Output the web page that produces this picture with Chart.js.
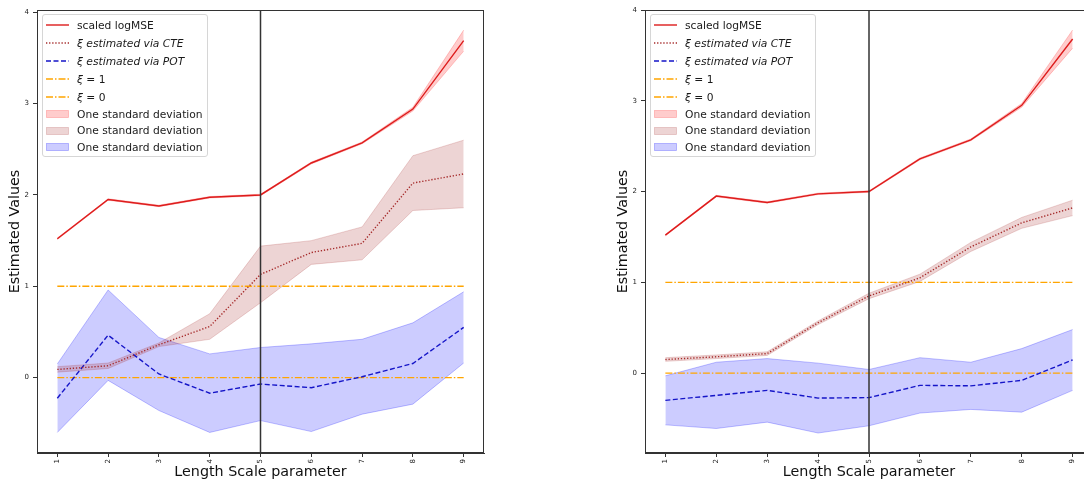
<!DOCTYPE html>
<html><head><meta charset="utf-8">
<script src="https://cdn.jsdelivr.net/npm/chart.js@4"></script>
<style>
html,body{margin:0;padding:0;background:#fff;}
body{width:1084px;height:481px;position:relative;overflow:hidden;font-family:'DejaVu Sans',sans-serif;}
.panel{position:absolute;top:0;height:481px;}
.legend{position:absolute;box-sizing:border-box;width:166px;height:143px;border:1px solid #d6d6d6;border-radius:3px;background:rgba(255,255,255,0.8);padding-top:1px;font-size:10.7px;color:#1a1a1a;}
.row{display:flex;align-items:center;height:18px;white-space:nowrap;}
.row.p{height:16.5px;}
.row svg{margin-left:3px;margin-right:8px;flex:none;}
</style></head><body>
<div class="panel" id="pL" style="left:0;width:500px"><canvas id="cL" width="500" height="481"></canvas></div>
<div class="panel" id="pR" style="left:608px;width:501px"><canvas id="cR" width="501" height="481"></canvas></div>
<script>
// ---------- data ----------
const lengthScale = [1, 2, 3, 4, 5, 6, 7, 8, 9];
const xTicks = [1, 2, 3, 4, 5, 6, 7, 8, 9];
const yTicks = [0, 1, 2, 3, 4];
const markerX = 5;
const xiLevels = [1, 0];

// left panel
const leftLogMSE     = [1.52, 1.95, 1.88, 1.975, 2.00, 2.35, 2.57, 2.94, 3.69];
const leftLogMSEStd  = [0.008, 0.008, 0.008, 0.008, 0.008, 0.01, 0.01, 0.02, 0.115];
const leftCTE        = [0.09, 0.13, 0.36, 0.56, 1.13, 1.37, 1.47, 2.13, 2.23];
const leftCTEStd     = [0.03, 0.03, 0.02, 0.14, 0.31, 0.13, 0.18, 0.30, 0.37];
const leftPOT        = [-0.225, 0.465, 0.04, -0.17, -0.07, -0.11, 0.01, 0.155, 0.55];
const leftPOTStd     = [0.375, 0.495, 0.40, 0.43, 0.40, 0.48, 0.41, 0.445, 0.39];
const leftYLim       = [-0.825, 4.025];

// right panel
const rightLogMSE    = [1.52, 1.95, 1.88, 1.975, 2.00, 2.36, 2.57, 2.95, 3.68];
const rightLogMSEStd = [0.008, 0.008, 0.008, 0.008, 0.008, 0.01, 0.01, 0.02, 0.10];
const rightCTE       = [0.15, 0.18, 0.215, 0.555, 0.85, 1.05, 1.39, 1.655, 1.82];
const rightCTEStd    = [0.02, 0.02, 0.02, 0.02, 0.03, 0.04, 0.05, 0.06, 0.085];
const rightPOT       = [-0.30, -0.245, -0.19, -0.275, -0.27, -0.135, -0.14, -0.08, 0.145];
const rightPOTStd    = [0.27, 0.365, 0.35, 0.385, 0.31, 0.305, 0.26, 0.35, 0.335];
const rightYLim      = [-0.88, 4.0];

const xLim = [0.6, 9.4];

// ---------- styles ----------
const FONT = "'DejaVu Sans', sans-serif";
const C = {
  red: '#dd1c1c', redFill: 'rgba(255,0,0,0.2)', redEdge: 'rgba(255,0,0,0.25)',
  brown: '#a52a2a', brownFill: 'rgba(165,42,42,0.2)', brownEdge: 'rgba(165,42,42,0.25)',
  blue: '#1515c8', blueFill: 'rgba(0,0,255,0.2)', blueEdge: 'rgba(0,0,255,0.3)',
  orange: '#ffa500', vline: '#333333', axis: '#333333', text: '#222222'
};
const DASH = { dotted: [1.3, 1.8], dashed: [5, 2.5], dashdot: [7, 2, 1.5, 2] };
const LW = 1.4;

function pts(xs, ys) { return xs.map((x, i) => ({ x: x, y: ys[i] })); }
function band(ys, sd, sign) { return ys.map((v, i) => v + sign * sd[i]); }

function makeDatasets(mse, mseSd, cte, cteSd, pot, potSd, ylim) {
  const base = { pointRadius: 0, pointHoverRadius: 0, tension: 0, fill: false };
  return [
    Object.assign({}, base, { label: 'vline', data: [{ x: markerX, y: ylim[0] }, { x: markerX, y: ylim[1] }], borderColor: C.vline, borderWidth: 1.5 }),
    Object.assign({}, base, { label: 'scaled logMSE', data: pts(lengthScale, mse), borderColor: C.red, borderWidth: LW }),
    Object.assign({}, base, { label: 'CTE', data: pts(lengthScale, cte), borderColor: C.brown, borderWidth: LW, borderDash: DASH.dotted }),
    Object.assign({}, base, { label: 'POT', data: pts(lengthScale, pot), borderColor: C.blue, borderWidth: LW, borderDash: DASH.dashed }),
    Object.assign({}, base, { label: 'xi1', data: [{ x: lengthScale[0], y: xiLevels[0] }, { x: lengthScale[lengthScale.length - 1], y: xiLevels[0] }], borderColor: C.orange, borderWidth: LW, borderDash: DASH.dashdot }),
    Object.assign({}, base, { label: 'xi0', data: [{ x: lengthScale[0], y: xiLevels[1] }, { x: lengthScale[lengthScale.length - 1], y: xiLevels[1] }], borderColor: C.orange, borderWidth: LW, borderDash: DASH.dashdot }),
    Object.assign({}, base, { label: 'mseUp', data: pts(lengthScale, band(mse, mseSd, 1)), borderColor: C.redEdge, borderWidth: 0.8, fill: '+1', backgroundColor: C.redFill }),
    Object.assign({}, base, { label: 'mseLo', data: pts(lengthScale, band(mse, mseSd, -1)), borderColor: C.redEdge, borderWidth: 0.8 }),
    Object.assign({}, base, { label: 'cteUp', data: pts(lengthScale, band(cte, cteSd, 1)), borderColor: C.brownEdge, borderWidth: 0.8, fill: '+1', backgroundColor: C.brownFill }),
    Object.assign({}, base, { label: 'cteLo', data: pts(lengthScale, band(cte, cteSd, -1)), borderColor: C.brownEdge, borderWidth: 0.8 }),
    Object.assign({}, base, { label: 'potUp', data: pts(lengthScale, band(pot, potSd, 1)), borderColor: C.blueEdge, borderWidth: 0.8, fill: '+1', backgroundColor: C.blueFill }),
    Object.assign({}, base, { label: 'potLo', data: pts(lengthScale, band(pot, potSd, -1)), borderColor: C.blueEdge, borderWidth: 0.8 })
  ];
}

const framePlugin = {
  id: 'frame',
  afterDraw(chart) {
    const a = chart.chartArea, ctx = chart.ctx;
    ctx.save();
    ctx.strokeStyle = C.axis; ctx.lineWidth = 1;
    ctx.strokeRect(Math.round(a.left) + 0.5, Math.round(a.top) + 0.5, Math.round(a.right - a.left) - 1, Math.round(a.bottom - a.top) - 1);
    ctx.restore();
  }
};

function makeChart(canvasId, datasets, ylim, padRight) {
  return new Chart(document.getElementById(canvasId), {
    type: 'line',
    data: { datasets: datasets },
    plugins: [framePlugin],
    options: {
      responsive: false, animation: false, devicePixelRatio: 1,
      layout: { padding: { top: 10, right: padRight, left: 0, bottom: 0 } },
      plugins: { legend: { display: false }, tooltip: { enabled: false } },
      scales: {
        x: {
          type: 'linear', min: xLim[0], max: xLim[1],
          afterBuildTicks: s => { s.ticks = xTicks.map(v => ({ value: v })); },
          afterFit: s => { s.height = 28; s.paddingLeft = 0; s.paddingRight = 0; },
          ticks: { minRotation: 90, maxRotation: 90, autoSkip: false, padding: 2, color: C.text, font: { family: FONT, size: 7 } },
          grid: { drawOnChartArea: false, drawTicks: true, tickLength: 4, tickColor: C.axis },
          border: { display: true, color: C.axis, width: 1 },
          title: { display: true, text: 'Length Scale parameter', color: '#111', font: { family: FONT, size: 14.3 }, padding: { top: 0, bottom: 0 } }
        },
        y: {
          type: 'linear', min: ylim[0], max: ylim[1],
          afterBuildTicks: s => { s.ticks = yTicks.map(v => ({ value: v })); },
          afterFit: s => { s.width = 37; s.paddingTop = 0; s.paddingBottom = 0; },
          ticks: { padding: 4, color: C.text, font: { family: FONT, size: 7 } },
          grid: { drawOnChartArea: false, drawTicks: true, tickLength: 4, tickColor: C.axis },
          border: { display: true, color: C.axis, width: 1 },
          title: { display: true, text: 'Estimated Values', color: '#111', font: { family: FONT, size: 14.3 }, padding: { top: 7, bottom: 0 } }
        }
      }
    }
  });
}

const legendItems = [
  { html: 'scaled logMSE', kind: 'line', color: C.red, dash: [] },
  { html: '<i>ξ estimated via CTE</i>', kind: 'line', color: C.brown, dash: DASH.dotted },
  { html: '<i>ξ estimated via POT</i>', kind: 'line', color: C.blue, dash: DASH.dashed },
  { html: '<i>ξ</i> = 1', kind: 'line', color: C.orange, dash: DASH.dashdot },
  { html: '<i>ξ</i> = 0', kind: 'line', color: C.orange, dash: DASH.dashdot },
  { html: 'One standard deviation', kind: 'patch', color: C.redFill, edge: C.redEdge },
  { html: 'One standard deviation', kind: 'patch', color: C.brownFill, edge: C.brownEdge },
  { html: 'One standard deviation', kind: 'patch', color: C.blueFill, edge: C.blueEdge }
];

function addLegend(chart, panelId) {
  const a = chart.chartArea;
  const box = document.createElement('div');
  box.className = 'legend';
  box.style.left = (a.left + 5) + 'px';
  box.style.top = (a.top + 4) + 'px';
  legendItems.forEach(it => {
    const row = document.createElement('div');
    row.className = 'row' + (it.kind === 'patch' ? ' p' : '');
    let svg;
    if (it.kind === 'line') {
      svg = '<svg width="23" height="8"><line x1="0" y1="4" x2="23" y2="4" stroke="' + it.color + '" stroke-width="' + LW + '" stroke-dasharray="' + it.dash.join(',') + '"/></svg>';
    } else {
      svg = '<svg width="23" height="8"><rect x="0.5" y="0.5" width="22" height="7" fill="' + it.color + '" stroke="' + it.edge + '" stroke-width="0.8"/></svg>';
    }
    row.innerHTML = svg + '<span>' + it.html + '</span>';
    box.appendChild(row);
  });
  document.getElementById(panelId).appendChild(box);
}

const chartL = makeChart('cL', makeDatasets(leftLogMSE, leftLogMSEStd, leftCTE, leftCTEStd, leftPOT, leftPOTStd, leftYLim), leftYLim, 16);
const chartR = makeChart('cR', makeDatasets(rightLogMSE, rightLogMSEStd, rightCTE, rightCTEStd, rightPOT, rightPOTStd, rightYLim), rightYLim, 16);
addLegend(chartL, 'pL');
addLegend(chartR, 'pR');
</script>
</body></html>
